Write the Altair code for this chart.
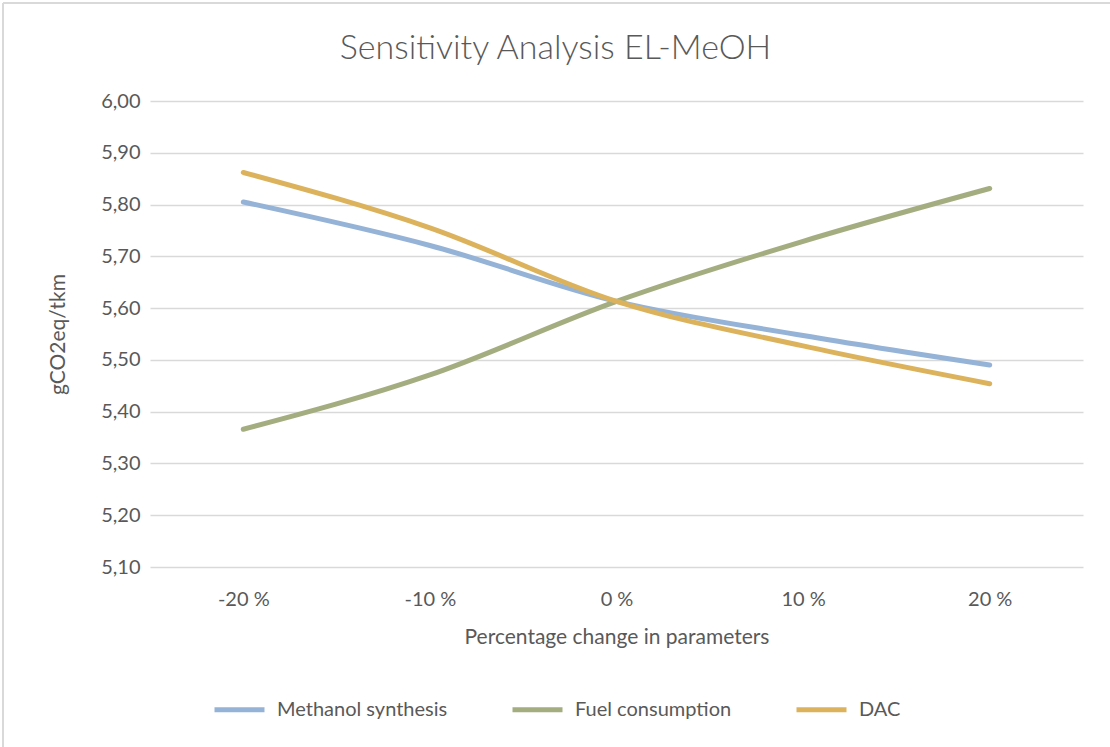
import altair as alt
import pandas as pd

categories = ["-20 %", "-10 %", "0 %", "10 %", "20 %"]
methanol_synthesis = [5.805, 5.721, 5.613, 5.547, 5.490]
fuel_consumption = [5.366, 5.471, 5.613, 5.729, 5.831]
dac = [5.862, 5.755, 5.613, 5.527, 5.454]
series_names = ["Methanol synthesis", "Fuel consumption", "DAC"]
series_colors = ["#95B3D7", "#A4AD80", "#DCB35C"]

rows = []
for name, vals in zip(series_names, [methanol_synthesis, fuel_consumption, dac]):
    for c, v in zip(categories, vals):
        rows.append({"change": c, "value": v, "series": name})
df = pd.DataFrame(rows)

FONT = "Lato"
TEXT = "#595959"
BORDER = "#D9D9D9"

lines = alt.Chart(df).mark_line(strokeWidth=5, strokeCap="round", interpolate="monotone").encode(
    x=alt.X("change:N", sort=categories, scale=alt.Scale(type="point", padding=0.5),
            axis=alt.Axis(title="Percentage change in parameters", labelAngle=0, ticks=False,
                          domain=False, grid=False, labelPadding=22, titlePadding=17)),
    y=alt.Y("value:Q", scale=alt.Scale(domain=[5.10, 6.00], nice=False, zero=False),
            axis=alt.Axis(title="gCO2eq/tkm", values=[5.1, 5.2, 5.3, 5.4, 5.5, 5.6, 5.7, 5.8, 5.9, 6.0],
                          labelExpr="replace(format(datum.value, '.2f'), '.', ',')",
                          ticks=False, domain=False, labelPadding=10, titlePadding=32,
                          gridColor="#D9D9D9", gridWidth=1.5)),
    color=alt.Color("series:N", sort=series_names,
                    scale=alt.Scale(domain=series_names, range=series_colors),
                    legend=alt.Legend(title=None, orient="none", direction="horizontal",
                                      legendX=62, legendY=581, symbolType="stroke",
                                      symbolStrokeWidth=5, symbolSize=2500, labelLimit=400,
                                      columnPadding=54, labelOffset=10)),
)

frame_df = pd.DataFrame({"k": [0]})
top_border = alt.Chart(frame_df).mark_rule(color=BORDER, strokeWidth=2).encode(
    x=alt.value(-147), x2=alt.value(960), y=alt.value(-98))
left_border = alt.Chart(frame_df).mark_rule(color=BORDER, strokeWidth=2).encode(
    x=alt.value(-147), y=alt.value(-98), y2=alt.value(646))

chart = alt.layer(lines, top_border, left_border).properties(
    width=933, height=466,
    title=alt.Title("Sensitivity Analysis EL-MeOH", fontSize=34, font=FONT, fontWeight=300,
                    color=TEXT, anchor="middle", offset=27, dx=-61, dy=91),
    autosize=alt.AutoSizeParams(type="none"),
    padding={"left": 150, "top": 101, "right": 27, "bottom": 180},
    background="white",
).configure(
    view=alt.ViewConfig(stroke=None),
    axis=alt.AxisConfig(labelFont=FONT, titleFont=FONT, labelFontSize=20, titleFontSize=21,
                        labelColor=TEXT, titleColor=TEXT, titleFontWeight="normal"),
    legend=alt.LegendConfig(labelFont=FONT, labelFontSize=20, labelColor=TEXT),
)

chart.save("out.html", embed_options={"renderer": "svg", "actions": False})
